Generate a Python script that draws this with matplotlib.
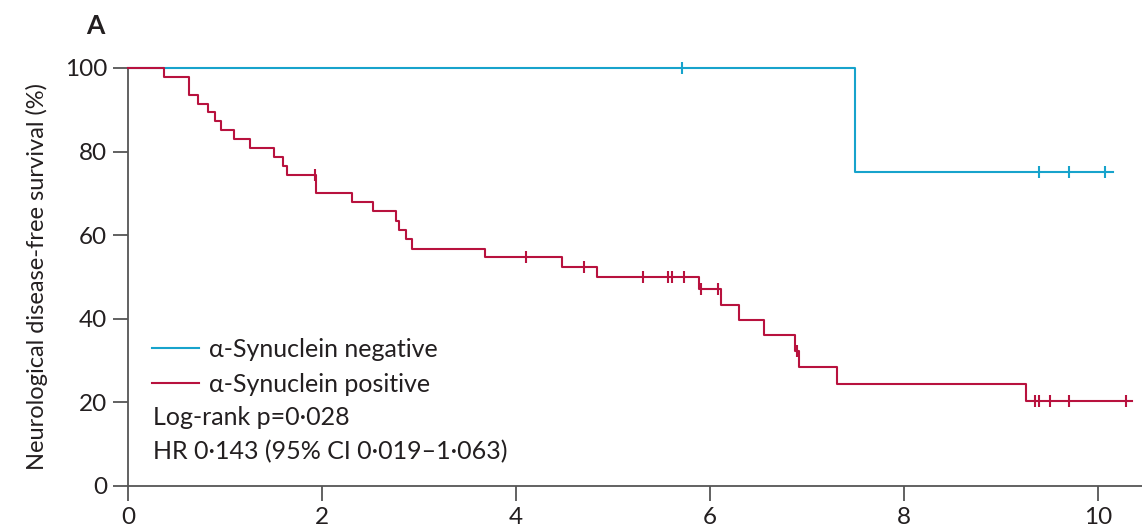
import numpy as np
import matplotlib
matplotlib.use('Agg')
import matplotlib.pyplot as plt
from matplotlib.lines import Line2D

plt.rcParams['font.family'] = ['Lato', 'DejaVu Sans']

# alpha-synuclein negative group
neg_time = [0, 7.49]
neg_surv = [100, 75.0]
neg_end = 10.15
neg_cens = [5.71, 9.39, 9.70, 10.07]

# alpha-synuclein positive group
pos_time = [0, 0.37, 0.63, 0.72, 0.82, 0.90, 0.96, 1.09, 1.26, 1.51, 1.60, 1.64,
            1.94, 2.31, 2.53, 2.76, 2.79, 2.87, 2.93, 3.68, 4.47, 4.84, 5.89,
            6.11, 6.30, 6.56, 6.88, 6.92, 7.31, 9.26]
pos_surv = [100, 97.9, 93.6, 91.5, 89.4, 87.2, 85.1, 83.0, 80.9, 78.7, 76.6, 74.5,
            70.2, 68.0, 65.7, 63.4, 61.2, 59.0, 56.8, 54.7, 52.4, 50.0, 47.1,
            43.4, 39.6, 36.2, 32.4, 28.4, 24.5, 20.3]
pos_end = 10.35
pos_cens = [1.93, 4.10, 4.70, 5.31, 5.57, 5.61, 5.73, 5.91, 6.08, 6.90,
            9.35, 9.39, 9.51, 9.70, 10.29]

labels = ['\u03b1-Synuclein negative', '\u03b1-Synuclein positive']
stats = ['Log-rank p=0\u00b7028', 'HR 0\u00b7143 (95% CI 0\u00b7019\u20131\u00b7063)']
xticks = [0, 2, 4, 6, 8, 10]
yticks = [0, 20, 40, 60, 80, 100]

blue = '#17a3cc'
red = '#b8123e'
txt = '#231f20'
axc = '#555555'
fs = 18


def km(ax, t, s, end, cens, color):
    tt = list(t) + [end]
    ss = list(s) + [s[-1]]
    ax.step(tt, ss, where='post', color=color, lw=1.5, clip_on=False, zorder=3)
    idx = np.searchsorted(np.array(t), np.array(cens), side='right') - 1
    cy = np.array(s)[idx]
    ax.plot(cens, cy, ls='none', marker='|', ms=8, mew=1.5, color=color,
            clip_on=False, zorder=4)


fig = plt.figure(figsize=(11.42, 5.25), dpi=100)
ax = fig.add_axes([0.1121, 0.0743, 0.8918, 0.7962])

km(ax, neg_time, neg_surv, neg_end, neg_cens, blue)
km(ax, pos_time, pos_surv, pos_end, pos_cens, red)

ax.set_xlim(0, 10.5)
ax.set_ylim(0, 100)
ax.set_xticks(xticks)
ax.set_yticks(yticks)
for sp in ['top', 'right']:
    ax.spines[sp].set_visible(False)
for sp in ['left', 'bottom']:
    ax.spines[sp].set_color(axc)
    ax.spines[sp].set_linewidth(1.3)
ax.tick_params(direction='out', length=11, width=1.3, color=axc,
               labelsize=17.5, labelcolor=txt, pad=4)
ax.set_ylabel('Neurological disease-free survival (%)', fontsize=17,
              color=txt, labelpad=12)

handles = [Line2D([], [], color=blue, lw=1.5), Line2D([], [], color=red, lw=1.5)]
ax.legend(handles, labels, loc='upper left', bbox_to_anchor=(0.014, 0.378),
          frameon=False, fontsize=fs, handlelength=1.85, handletextpad=0.4,
          labelspacing=0.48, borderaxespad=0, labelcolor=txt)
ax.text(0.0245, 0.163, stats[0], transform=ax.transAxes, fontsize=fs,
        color=txt, va='center', ha='left')
ax.text(0.0245, 0.081, stats[1], transform=ax.transAxes, fontsize=fs,
        color=txt, va='center', ha='left')

fig.text(0.075, 0.95, 'A', fontsize=19, fontweight='bold', color=txt,
         va='center', ha='left')

fig.savefig('out.png', dpi=100)
